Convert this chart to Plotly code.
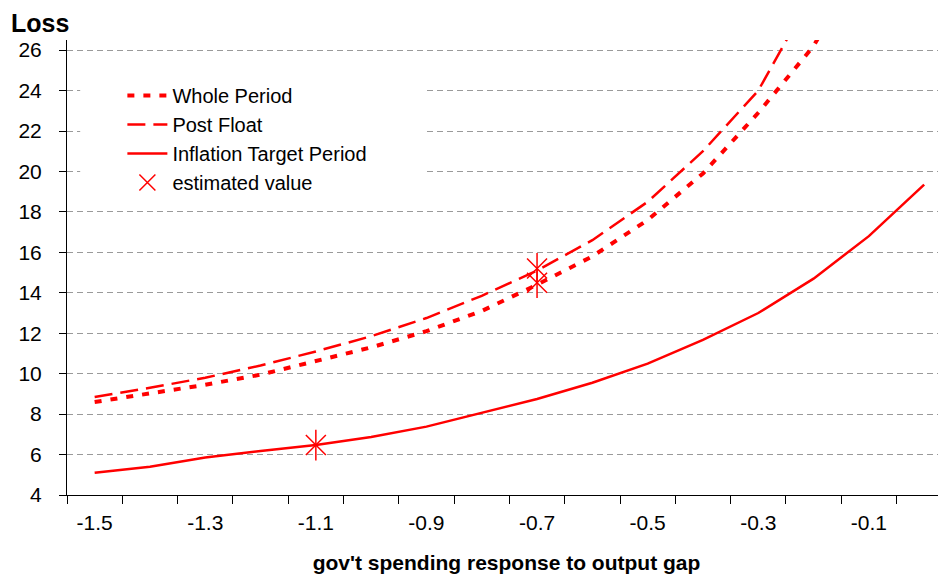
import plotly.graph_objects as go

# gov't spending response to output gap (one point per 0.1 step)
categories = [-1.5, -1.4, -1.3, -1.2, -1.1, -1.0, -0.9, -0.8,
              -0.7, -0.6, -0.5, -0.4, -0.3, -0.2, -0.1, 0.0]

whole_period = [8.6, 9.0, 9.45, 9.95, 10.6, 11.3, 12.1, 13.1,
                14.4, 15.8, 17.6, 19.9, 22.9, 26.2, 31.0, 38.0]
post_float = [8.85, 9.3, 9.8, 10.4, 11.1, 11.85, 12.75, 13.85,
              15.1, 16.6, 18.5, 21.0, 24.0, 28.9, 35.0, 45.0]
inflation_target = [5.1, 5.4, 5.85, 6.18, 6.47, 6.87, 7.38, 8.05,
                    8.75, 9.55, 10.5, 11.67, 13.0, 14.7, 16.8, 19.35]

est_x = [-0.7, -0.7, -1.1]
est_y = [14.5, 15.2, 6.47]

x_tick_labels = ["-1.5", "-1.3", "-1.1", "-0.9", "-0.7", "-0.5", "-0.3", "-0.1"]
y_ticks = [4, 6, 8, 10, 12, 14, 16, 18, 20, 22, 24, 26]

RED = "#ff0000"
FONT = "Liberation Sans, Arial, sans-serif"

fig = go.Figure()

fig.add_trace(go.Scatter(
    x=categories, y=whole_period, mode="lines", name="Whole Period",
    line=dict(color=RED, width=4, dash="7px,9px"),
))
fig.add_trace(go.Scatter(
    x=categories, y=post_float, mode="lines", name="Post Float",
    line=dict(color=RED, width=2.5, dash="18px,8px"),
))
fig.add_trace(go.Scatter(
    x=categories, y=inflation_target, mode="lines", name="Inflation Target Period",
    line=dict(color=RED, width=2.5),
))
# asterisk = diagonal cross + vertical bar
fig.add_trace(go.Scatter(
    x=est_x, y=est_y, mode="markers", name="estimated value",
    marker=dict(symbol="x-thin-open", size=20, color=RED,
                line=dict(color=RED, width=1.5)),
))
fig.add_trace(go.Scatter(
    x=est_x, y=est_y, mode="markers", showlegend=False,
    marker=dict(symbol="line-ns-open", size=22, color=RED,
                line=dict(color=RED, width=1.5)),
))

# white box behind the legend hides the gridlines
fig.add_shape(type="rect", xref="paper", yref="paper",
              x0=0.015, x1=0.407, y0=0.655, y1=0.923,
              fillcolor="white", line=dict(width=0), layer="above")

fig.add_annotation(text="<b>Loss</b>", xref="paper", yref="paper",
                   x=-0.066, y=1.038, xanchor="left", yanchor="middle",
                   showarrow=False, font=dict(size=25, family=FONT, color="black"))

# the page has an 8px body margin, so margins are shifted by 8px
fig.update_layout(
    width=946, height=575,
    margin=dict(l=59, r=8, t=32, b=88, autoexpand=False),
    plot_bgcolor="white", paper_bgcolor="white",
    font=dict(family=FONT, size=21, color="black"),
    legend=dict(x=0.063, y=0.921, xanchor="left", yanchor="top",
                bgcolor="rgba(0,0,0,0)", itemwidth=40, tracegroupgap=0,
                font=dict(size=20)),
    xaxis=dict(
        range=[-1.55, 0.0395],
        tickvals=[float(t) for t in x_tick_labels], ticktext=x_tick_labels,
        ticks="", ticklabelstandoff=9, tickfont=dict(size=21),
        minor=dict(tick0=-1.55, dtick=0.1, ticks="outside", ticklen=8,
                   tickcolor="black", showgrid=False),
        showline=True, linecolor="black", linewidth=1,
        showgrid=False, zeroline=False,
        title=dict(text="<b>gov't spending response to output gap</b>",
                   font=dict(size=21), standoff=22),
    ),
    yaxis=dict(
        range=[4, 26.5], tickvals=y_ticks, tickfont=dict(size=21),
        ticks="outside", ticklen=7, tickcolor="black", ticklabelstandoff=13,
        showline=True, linecolor="black", linewidth=1,
        showgrid=True, gridcolor="#9a9a9a", gridwidth=1, griddash="6px,4px",
        zeroline=False,
    ),
)

fig.write_html("out.html")
